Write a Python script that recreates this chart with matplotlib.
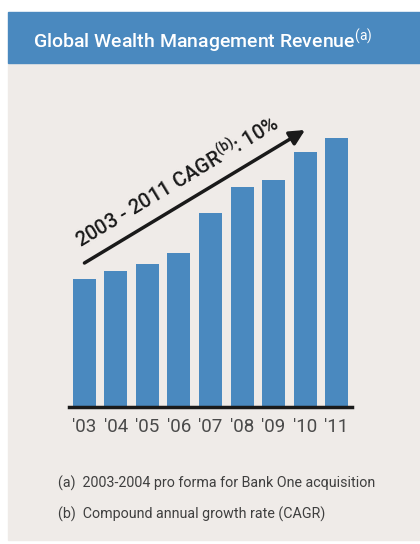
import numpy as np
import matplotlib
matplotlib.use("Agg")
from matplotlib import pyplot as plt
from matplotlib.patches import Rectangle
import matplotlib.transforms as mtransforms

# data (bar heights, arbitrary units)
years = ["'03", "'04", "'05", "'06", "'07", "'08", "'09", "'10", "'11"]
revenue = [128, 136, 143, 154, 194, 220, 227, 255, 269]
title = "Global Wealth Management Revenue"
cagr_label = "2003 - 2011 CAGR"
cagr_value = "10%"
notes = ["(a)  2003-2004 pro forma for Bank One acquisition",
         "(b)  Compound annual growth rate (CAGR)"]

blue = "#4A89BF"
panel = "#EFEBE8"
dark = "#3F3F3F"

plt.rcParams['font.family'] = ['Roboto', 'DejaVu Sans']
plt.rcParams['mathtext.fontset'] = 'custom'
plt.rcParams['mathtext.rm'] = 'Roboto'
plt.rcParams['mathtext.bf'] = 'Roboto:medium'
plt.rcParams['mathtext.it'] = 'Roboto'

W, H = 420, 544
fig = plt.figure(figsize=(W / 100, H / 100), dpi=100, facecolor="white")

def px(x, y):
    # pixel coords (top-left origin) -> figure fraction
    return x / W, 1 - y / H

# panel + header (drawn under the axes)
x0, y0 = px(8, 540)
fig.patches.append(Rectangle((x0, y0), 1 - x0, px(0, 63)[1] - y0,
                             transform=fig.transFigure, color=panel, zorder=-2))
x0, y0 = px(8, 63)
fig.patches.append(Rectangle((x0, y0), 1 - x0, px(0, 12)[1] - y0,
                             transform=fig.transFigure, color=blue, zorder=-2))
tx, ty = px(33, 42)
fig.text(tx, ty, title + r"$^{\mathrm{(a)}}$", color="white", fontsize=14,
         fontweight="medium", va="center", ha="left")

# bar axes: baseline at y=407px, 1 data unit = 1 px vertically
ax_l, ax_b = px(69, 407)
ax_r, ax_t = px(352, 107)
ax = fig.add_axes([ax_l, ax_b, ax_r - ax_l, ax_t - ax_b])
ax.set_facecolor("none")
x = np.arange(len(years))
ax.bar(x, revenue, width=0.73, color=blue, zorder=2)
ax.set_xlim(-0.49, len(years) - 0.51)
ax.set_ylim(0, 300)
for s in ["top", "right", "left"]:
    ax.spines[s].set_visible(False)
ax.spines["bottom"].set_linewidth(2.5)
ax.spines["bottom"].set_color("#1a1a1a")
ax.spines["bottom"].set_zorder(3)
ax.set_yticks([])
ax.set_xticks(x)
ax.set_xticklabels(years, fontsize=13.5, color="#4a4a4a")
ax.tick_params(axis="x", length=0, pad=8)

# growth arrow
start = (0, revenue[0] + 16)
end = (7, revenue[-1] + 8)
ax.annotate("", xy=end, xytext=start,
            arrowprops=dict(arrowstyle="-|>,head_length=0.9,head_width=0.45",
                            lw=2.5, color="#1a1a1a", shrinkA=0, shrinkB=0))
fig.canvas.draw()
p0 = ax.transData.transform(start)
p1 = ax.transData.transform(end)
angle = np.degrees(np.arctan2(p1[1] - p0[1], p1[0] - p0[0]))
t = 0.47
mid = (start[0] + t * (end[0] - start[0]), start[1] + t * (end[1] - start[1]))
off = mtransforms.offset_copy(ax.transData, fig=fig,
                              x=-np.sin(np.radians(angle)) * 7.5,
                              y=np.cos(np.radians(angle)) * 7.5, units="points")
ax.text(mid[0], mid[1], cagr_label + r"$^{\mathbf{(b)}}$: " + cagr_value,
        transform=off, rotation=angle, rotation_mode="anchor",
        ha="center", va="bottom", fontsize=14.5, fontweight="medium", color="#1a1a1a")

# footnotes
for i, n in enumerate(notes):
    nx, ny = px(58, 483 + 31 * i)
    fig.text(nx, ny, n, fontsize=10.3, color=dark, va="center", ha="left")

fig.savefig("out.png", dpi=100, facecolor="white")
